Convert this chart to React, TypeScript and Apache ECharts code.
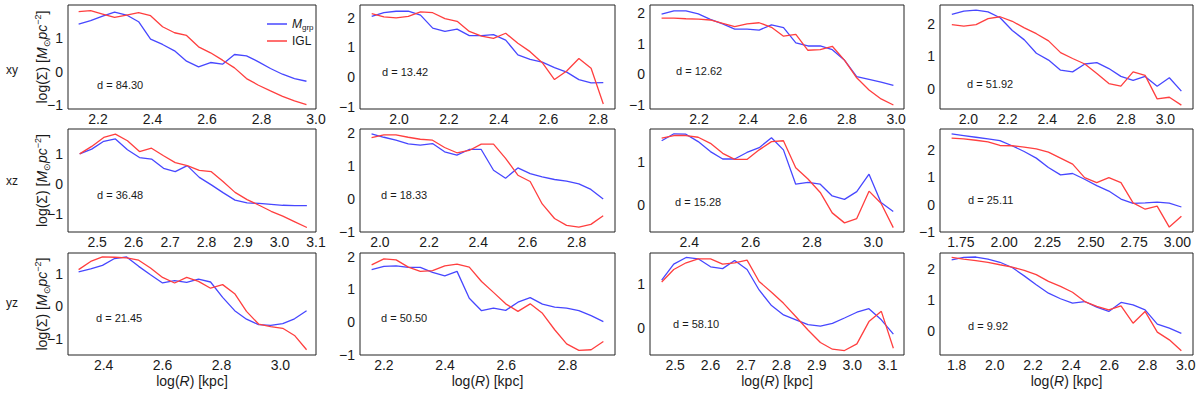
import React, { useEffect, useRef } from "react";
import * as echarts from "echarts";

// ---------- data ----------
const rowLabels = ["xy", "xz", "yz"];
const distances = ["84.30", "13.42", "12.62", "51.92", "36.48", "18.33", "15.28", "25.11", "21.45", "50.50", "58.10", "9.92"];

const X1 = [2.129, 2.173, 2.217, 2.261, 2.305, 2.349, 2.393, 2.437, 2.481, 2.525, 2.569, 2.613, 2.657, 2.701, 2.745, 2.789, 2.833, 2.877, 2.921, 2.965];
const GRP1 = [1.42, 1.52, 1.66, 1.78, 1.69, 1.49, 0.97, 0.81, 0.62, 0.31, 0.14, 0.27, 0.22, 0.51, 0.47, 0.29, 0.09, -0.08, -0.21, -0.29];
const IGL1 = [1.79, 1.82, 1.72, 1.62, 1.69, 1.76, 1.67, 1.34, 1.16, 1.08, 0.74, 0.56, 0.34, 0.11, -0.21, -0.41, -0.58, -0.74, -0.88, -0.99];

const X2 = [1.89, 1.939, 1.988, 2.037, 2.086, 2.135, 2.184, 2.233, 2.282, 2.331, 2.379, 2.428, 2.477, 2.526, 2.575, 2.624, 2.673, 2.722, 2.771, 2.82];
const GRP2 = [2.05, 2.17, 2.22, 2.22, 2.09, 1.65, 1.54, 1.62, 1.4, 1.4, 1.43, 1.25, 0.75, 0.6, 0.51, 0.32, 0.17, -0.08, -0.19, -0.18];
const IGL2 = [2.14, 2.03, 2.0, 2.05, 2.2, 2.17, 1.97, 1.88, 1.54, 1.38, 1.31, 1.48, 1.14, 0.86, 0.49, -0.08, 0.21, 0.63, 0.3, -0.9];

const X3 = [2.048, 2.098, 2.147, 2.197, 2.246, 2.296, 2.345, 2.395, 2.444, 2.494, 2.543, 2.593, 2.642, 2.692, 2.741, 2.791, 2.84, 2.89, 2.939, 2.989];
const GRP3 = [1.97, 2.08, 2.08, 1.98, 1.8, 1.65, 1.48, 1.48, 1.45, 1.62, 1.53, 1.03, 0.93, 0.93, 0.81, 0.46, -0.07, -0.16, -0.25, -0.36];
const IGL3 = [1.84, 1.84, 1.82, 1.81, 1.78, 1.67, 1.56, 1.65, 1.69, 1.54, 1.25, 1.31, 0.79, 0.81, 0.92, 0.46, -0.11, -0.51, -0.8, -1.0];

const X4 = [1.916, 1.977, 2.039, 2.1, 2.161, 2.223, 2.284, 2.345, 2.407, 2.468, 2.529, 2.591, 2.652, 2.713, 2.774, 2.836, 2.897, 2.958, 3.02, 3.081];
const GRP4 = [2.28, 2.38, 2.41, 2.36, 2.18, 1.79, 1.5, 1.09, 0.88, 0.57, 0.52, 0.76, 0.8, 0.62, 0.38, 0.26, 0.38, 0.08, 0.34, -0.07];
const IGL4 = [1.97, 1.92, 1.97, 2.15, 2.21, 2.07, 1.87, 1.69, 1.47, 1.11, 0.93, 0.76, 0.47, 0.16, 0.08, 0.52, 0.41, -0.31, -0.26, -0.5];

const X5 = [2.452, 2.485, 2.518, 2.55, 2.583, 2.616, 2.649, 2.682, 2.714, 2.747, 2.78, 2.813, 2.845, 2.878, 2.911, 2.944, 2.977, 3.009, 3.042, 3.075];
const GRP5 = [0.99, 1.15, 1.41, 1.49, 1.13, 0.87, 0.82, 0.51, 0.4, 0.6, 0.21, -0.04, -0.3, -0.55, -0.64, -0.66, -0.69, -0.72, -0.73, -0.73];
const IGL5 = [0.99, 1.24, 1.54, 1.65, 1.43, 1.07, 1.18, 0.93, 0.7, 0.6, 0.44, 0.4, 0.07, -0.29, -0.53, -0.72, -0.92, -1.08, -1.27, -1.46];

const X6 = [1.966, 2.016, 2.065, 2.115, 2.164, 2.214, 2.263, 2.313, 2.363, 2.412, 2.462, 2.511, 2.561, 2.611, 2.66, 2.71, 2.759, 2.809, 2.858, 2.908];
const GRP6 = [1.97, 1.87, 1.78, 1.67, 1.63, 1.68, 1.43, 1.33, 1.5, 1.5, 0.87, 0.63, 0.94, 0.77, 0.67, 0.59, 0.54, 0.46, 0.29, 0.0];
const IGL6 = [1.86, 1.94, 1.94, 1.87, 1.81, 1.78, 1.56, 1.4, 1.47, 1.66, 1.66, 1.23, 0.72, 0.53, -0.15, -0.59, -0.8, -0.85, -0.77, -0.51];

const X7 = [2.31, 2.35, 2.389, 2.429, 2.469, 2.509, 2.548, 2.588, 2.628, 2.668, 2.707, 2.747, 2.787, 2.827, 2.866, 2.906, 2.946, 2.986, 3.025, 3.065];
const GRP7 = [1.48, 1.64, 1.63, 1.46, 1.23, 1.06, 1.06, 1.21, 1.32, 1.55, 1.27, 0.48, 0.52, 0.48, 0.21, 0.13, 0.31, 0.71, 0.06, -0.15];
const IGL7 = [1.54, 1.6, 1.6, 1.56, 1.42, 1.19, 1.05, 1.05, 1.27, 1.46, 1.48, 0.86, 0.6, 0.29, -0.18, -0.41, -0.31, 0.32, 0.04, -0.52];

const X8 = [1.696, 1.766, 1.836, 1.906, 1.975, 2.045, 2.115, 2.185, 2.255, 2.325, 2.395, 2.464, 2.534, 2.604, 2.674, 2.744, 2.814, 2.883, 2.953, 3.023];
const GRP8 = [2.57, 2.51, 2.45, 2.39, 2.33, 2.14, 1.93, 1.69, 1.35, 1.08, 1.13, 0.92, 0.69, 0.49, 0.2, 0.04, 0.06, 0.09, 0.05, -0.09];
const IGL8 = [2.42, 2.39, 2.34, 2.28, 2.15, 2.14, 2.09, 2.03, 1.91, 1.69, 1.47, 0.98, 0.8, 0.98, 0.8, 0.06, -0.17, -0.06, -0.82, -0.43];

const X9 = [2.315, 2.356, 2.396, 2.437, 2.478, 2.519, 2.559, 2.6, 2.641, 2.682, 2.722, 2.763, 2.804, 2.845, 2.885, 2.926, 2.967, 3.008, 3.048, 3.089];
const GRP9 = [1.06, 1.15, 1.26, 1.47, 1.52, 1.23, 0.97, 0.72, 0.79, 0.74, 0.84, 0.75, 0.28, -0.13, -0.39, -0.56, -0.58, -0.53, -0.38, -0.13];
const IGL9 = [1.13, 1.38, 1.52, 1.51, 1.49, 1.42, 1.18, 0.89, 0.72, 0.89, 0.77, 0.56, 0.67, 0.39, -0.15, -0.54, -0.62, -0.67, -0.89, -1.33];

const X10 = [2.16, 2.2, 2.24, 2.28, 2.319, 2.359, 2.399, 2.439, 2.479, 2.519, 2.558, 2.598, 2.638, 2.678, 2.718, 2.758, 2.797, 2.837, 2.877, 2.917];
const GRP10 = [1.6, 1.7, 1.72, 1.67, 1.67, 1.52, 1.41, 1.55, 0.73, 0.35, 0.43, 0.36, 0.61, 0.75, 0.55, 0.46, 0.43, 0.35, 0.2, 0.02];
const IGL10 = [1.75, 1.93, 1.9, 1.68, 1.55, 1.57, 1.72, 1.77, 1.68, 1.24, 0.91, 0.56, 0.33, 0.56, 0.27, -0.23, -0.66, -0.86, -0.84, -0.59];

const X11 = [2.462, 2.496, 2.531, 2.565, 2.6, 2.634, 2.668, 2.703, 2.737, 2.772, 2.806, 2.841, 2.875, 2.91, 2.944, 2.978, 3.013, 3.047, 3.082, 3.116];
const GRP11 = [1.08, 1.44, 1.59, 1.56, 1.38, 1.34, 1.52, 1.32, 0.86, 0.51, 0.3, 0.19, 0.08, 0.05, 0.11, 0.23, 0.36, 0.44, 0.19, -0.13];
const IGL11 = [1.04, 1.32, 1.47, 1.56, 1.56, 1.44, 1.47, 1.53, 1.05, 0.81, 0.56, 0.26, -0.04, -0.32, -0.47, -0.5, -0.35, 0.15, 0.38, -0.45];

const X12 = [1.774, 1.837, 1.901, 1.964, 2.027, 2.091, 2.154, 2.217, 2.281, 2.344, 2.407, 2.471, 2.534, 2.597, 2.661, 2.724, 2.787, 2.851, 2.914, 2.977];
const GRP12 = [2.29, 2.37, 2.38, 2.31, 2.21, 2.04, 1.77, 1.48, 1.21, 1.03, 0.89, 0.94, 0.76, 0.62, 0.91, 0.83, 0.67, 0.21, 0.08, -0.09];
const IGL12 = [2.37, 2.31, 2.26, 2.21, 2.13, 2.05, 1.95, 1.81, 1.59, 1.43, 1.24, 0.94, 0.78, 0.67, 0.8, 0.24, 0.62, -0.05, -0.3, -0.65];

// axis limits and tick labels
const xRanges = [[2.09, 3.0], [1.843, 2.867], [2.001, 3.032], [1.856, 3.14], [2.42, 3.1], [1.919, 2.956], [2.272, 3.1], [1.629, 3.09], [2.279, 3.121], [2.122, 2.955], [2.429, 3.146], [1.713, 3.038]];
const yRanges = [[-1.12, 1.99], [-1.07, 2.43], [-1.13, 2.27], [-0.62, 2.57], [-1.61, 1.82], [-1.0, 2.12], [-0.62, 1.75], [-1.0, 2.75], [-1.49, 1.64], [-1.0, 2.11], [-0.6, 1.69], [-0.79, 2.51]];
const XT_A = [2.2, 2.4, 2.6, 2.8, 3.0];
const XT_B = [2.0, 2.2, 2.4, 2.6, 2.8];
const XT_C = [2.0, 2.2, 2.4, 2.6, 2.8, 3.0];
const XT_D = [2.5, 2.6, 2.7, 2.8, 2.9, 3.0, 3.1];
const XT_E = [2.4, 2.6, 2.8, 3.0];
const XT_F = [1.75, 2.0, 2.25, 2.5, 2.75, 3.0];
const XT_G = [2.2, 2.4, 2.6, 2.8];
const XT_H = [1.8, 2.0, 2.2, 2.4, 2.6, 2.8, 3.0];
const xTicks = [XT_A, XT_B, XT_A, XT_C, XT_D, XT_B, XT_E, XT_F, XT_E, XT_G, XT_D, XT_H];
const xDecimals = [1, 1, 1, 1, 1, 1, 1, 2, 1, 1, 1, 1];
const YT_3 = [-1, 0, 1];
const YT_4 = [-1, 0, 1, 2];
const YT_P = [0, 1, 2];
const YT_2 = [0, 1];
const yTicks = [YT_3, YT_4, YT_4, YT_P, YT_3, YT_4, YT_2, YT_4, YT_3, YT_4, YT_2, YT_P];

const xData = [X1, X2, X3, X4, X5, X6, X7, X8, X9, X10, X11, X12];
const grpData = [GRP1, GRP2, GRP3, GRP4, GRP5, GRP6, GRP7, GRP8, GRP9, GRP10, GRP11, GRP12];
const iglData = [IGL1, IGL2, IGL3, IGL4, IGL5, IGL6, IGL7, IGL8, IGL9, IGL10, IGL11, IGL12];

// ---------- layout ----------
const COLS = [
  { left: 68, width: 248 },
  { left: 360, width: 255 },
  { left: 650, width: 254 },
  { left: 940, width: 253 },
];
const ROWS = [
  { top: 5, height: 104 },
  { top: 129, height: 103 },
  { top: 253, height: 102 },
];
const D_POS = [
  [97, 85], [382, 72], [676, 71], [967, 84],
  [97, 195], [381, 195], [675, 202], [968, 200],
  [96, 318], [381, 318], [673, 324], [968, 326],
];
const ROW_LABEL_Y = [70, 181, 303];

const FONT = "'Liberation Sans', Arial, Helvetica, sans-serif";
const BLUE = "#4747ff";
const RED = "#ff3f3f";
const INK = "#1a1a1a";

const fmtY = (v: number) => (v < 0 ? "\u2212" + Math.abs(v) : String(v));

function buildOption() {
  const grid: any[] = [];
  const xAxis: any[] = [];
  const yAxis: any[] = [];
  const series: any[] = [];
  const graphic: any[] = [];

  for (let i = 0; i < 12; i++) {
    const r = Math.floor(i / 4);
    const c = i % 4;
    const g = { ...COLS[c], ...ROWS[r] };
    grid.push({
      left: g.left,
      top: g.top,
      width: g.width,
      height: g.height,
      show: true,
      borderColor: "#222",
      borderWidth: 1,
      backgroundColor: "transparent",
      containLabel: false,
    });
    const dec = xDecimals[i];
    xAxis.push({
      type: "value",
      gridIndex: i,
      min: xRanges[i][0],
      max: xRanges[i][1],
      axisLine: { show: false },
      axisTick: { show: false, customValues: xTicks[i] },
      splitLine: { show: false },
      axisLabel: {
        customValues: xTicks[i],
        formatter: (v: number) => v.toFixed(dec),
        fontFamily: FONT,
        fontSize: 14,
        color: INK,
        margin: 3,
        showMinLabel: true,
        showMaxLabel: true,
        hideOverlap: false,
      },
    });
    yAxis.push({
      type: "value",
      gridIndex: i,
      min: yRanges[i][0],
      max: yRanges[i][1],
      axisLine: { show: false },
      axisTick: { show: false, customValues: yTicks[i] },
      splitLine: { show: false },
      axisLabel: {
        customValues: yTicks[i],
        formatter: fmtY,
        fontFamily: FONT,
        fontSize: 14,
        color: INK,
        margin: 5,
        showMinLabel: true,
        showMaxLabel: true,
        hideOverlap: false,
      },
    });
    series.push({
      name: "M_grp",
      type: "line",
      xAxisIndex: i,
      yAxisIndex: i,
      data: xData[i].map((x, k) => [x, grpData[i][k]]),
      showSymbol: false,
      symbol: "none",
      color: BLUE,
      lineStyle: { color: BLUE, width: 1.3 },
      z: 3,
    });
    series.push({
      name: "IGL",
      type: "line",
      xAxisIndex: i,
      yAxisIndex: i,
      data: xData[i].map((x, k) => [x, iglData[i][k]]),
      showSymbol: false,
      symbol: "none",
      color: RED,
      lineStyle: { color: RED, width: 1.3 },
      z: 4,
    });
    graphic.push({
      type: "text",
      x: D_POS[i][0],
      y: D_POS[i][1],
      style: {
        text: "d = " + distances[i],
        font: "11px " + FONT,
        fill: INK,
        align: "left",
        verticalAlign: "middle",
      },
    });
    if (r === 2) {
      graphic.push({
        type: "text",
        x: g.left + g.width / 2,
        y: 381,
        style: {
          text: "{a|log(}{i|R}{a|) [kpc]}",
          rich: {
            a: { fontSize: 14, fontFamily: FONT, fill: INK },
            i: { fontSize: 14, fontFamily: FONT, fontStyle: "italic", fill: INK },
          },
          align: "center",
          verticalAlign: "middle",
        },
      });
    }
  }

  for (let r = 0; r < 3; r++) {
    const g = ROWS[r];
    graphic.push({
      type: "text",
      x: 42,
      y: g.top + g.height / 2,
      rotation: Math.PI / 2,
      style: {
        text: "{a|log(\u03a3) [}{i|M}{s|\u2299}{i|pc}{p|\u22122}{a|]}",
        rich: {
          a: { fontSize: 14, fontFamily: FONT, fill: INK, lineHeight: 18, verticalAlign: "middle" },
          i: { fontSize: 14, fontFamily: FONT, fontStyle: "italic", fill: INK, lineHeight: 18, verticalAlign: "middle" },
          s: { fontSize: 9, fontFamily: FONT, fill: INK, lineHeight: 18, verticalAlign: "bottom" },
          p: { fontSize: 9, fontFamily: FONT, fill: INK, lineHeight: 18, verticalAlign: "top" },
        },
        align: "center",
        verticalAlign: "middle",
      },
    });
    graphic.push({
      type: "text",
      x: 12,
      y: ROW_LABEL_Y[r],
      style: {
        text: rowLabels[r],
        font: "12px " + FONT,
        fill: INK,
        align: "center",
        verticalAlign: "middle",
      },
    });
  }

  return {
    animation: false,
    backgroundColor: "#ffffff",
    grid,
    xAxis,
    yAxis,
    series,
    graphic,
    legend: {
      left: 262,
      top: 13,
      orient: "vertical",
      itemWidth: 20,
      itemHeight: 1.5,
      itemGap: 4,
      icon: "rect",
      selectedMode: false,
      data: ["M_grp", "IGL"],
      formatter: (name: string) => (name === "M_grp" ? "{m|M}{g|grp}" : "{t|IGL}"),
      textStyle: {
        rich: {
          m: { fontSize: 12, fontFamily: FONT, fontStyle: "italic", color: INK, lineHeight: 14, verticalAlign: "middle" },
          g: { fontSize: 8, fontFamily: FONT, color: INK, lineHeight: 14, verticalAlign: "bottom" },
          t: { fontSize: 12, fontFamily: FONT, color: INK, lineHeight: 14 },
        },
      },
    },
  };
}

export default function App() {
  const ref = useRef<HTMLDivElement | null>(null);
  useEffect(() => {
    if (!ref.current) return;
    const chart = echarts.init(ref.current, undefined, { renderer: "svg" });
    chart.setOption(buildOption() as any);
    return () => chart.dispose();
  }, []);
  return (
    <div
      ref={ref}
      style={{ position: "fixed", left: 0, top: 0, width: 1200, height: 396, background: "#fff" }}
    />
  );
}
